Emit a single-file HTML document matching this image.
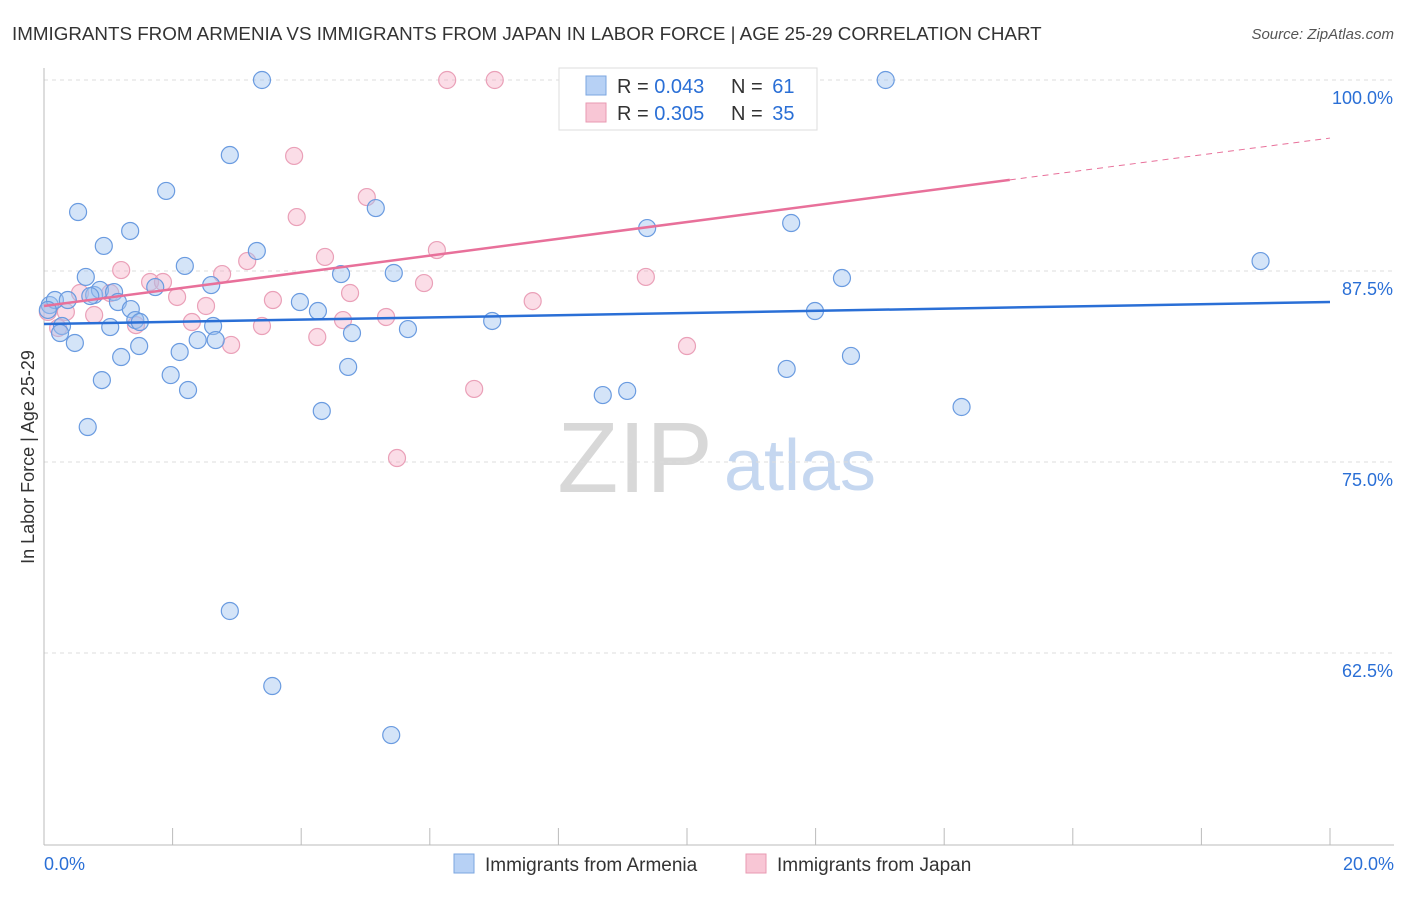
<!DOCTYPE html>
<html><head><meta charset="utf-8"><style>
body{margin:0;background:#fff;font-family:"Liberation Sans",sans-serif;}
svg text{font-family:"Liberation Sans",sans-serif;}
</style></head><body>
<svg id="chart" width="1406" height="892" viewBox="0 0 1406 892">
<text x="12" y="40" font-size="18.8" fill="#333">IMMIGRANTS FROM ARMENIA VS IMMIGRANTS FROM JAPAN IN LABOR FORCE | AGE 25-29 CORRELATION CHART</text>
<text x="1394" y="39" font-size="15" fill="#555" font-style="italic" text-anchor="end">Source: ZipAtlas.com</text>
<text transform="translate(34,457) rotate(-90)" font-size="18" fill="#333" text-anchor="middle">In Labor Force | Age 25-29</text>
<g>
<text x="635" y="492" font-size="100" fill="#d8d8d8" font-family="Liberation Serif" text-anchor="middle">ZIP</text>
<text x="800" y="490" font-size="72" fill="#c5d7f0" text-anchor="middle">atlas</text>
</g>
<g id="grid"></g>
<g id="marks"></g>
<g id="lines"></g>
<g>
<rect x="559" y="68" width="258" height="62" fill="#fff" stroke="#ddd"/>
<rect x="586" y="76" width="20" height="19" fill="#b7d1f5" stroke="#7ba6e0"/>
<text x="617" y="93" font-size="20" fill="#333">R = <tspan fill="#2a6fd6">0.043</tspan></text>
<text x="731" y="93" font-size="20" fill="#333">N = <tspan fill="#2a6fd6" dx="4">61</tspan></text>
<rect x="586" y="103" width="20" height="19" fill="#f8c6d5" stroke="#e89ab2"/>
<text x="617" y="120" font-size="20" fill="#333">R = <tspan fill="#2a6fd6">0.305</tspan></text>
<text x="731" y="120" font-size="20" fill="#333">N = <tspan fill="#2a6fd6" dx="4">35</tspan></text>
</g>
<g>
<rect x="454" y="854" width="20" height="19" fill="#b7d1f5" stroke="#7ba6e0"/>
<text x="485" y="871" font-size="19" fill="#333">Immigrants from Armenia</text>
<rect x="746" y="854" width="20" height="19" fill="#f8c6d5" stroke="#e89ab2"/>
<text x="777" y="871" font-size="19" fill="#333">Immigrants from Japan</text>
</g>
</svg>
<script>
const blueX=[0.09,0.17,0.28,0.25,0.37,0.48,0.53,0.65,0.68,0.78,0.87,0.90,0.93,1.03,1.09,1.15,1.20,1.34,1.35,1.42,1.48,1.73,1.90,1.97,2.11,2.19,2.24,2.39,2.60,2.63,2.67,2.89,2.89,3.31,3.39,3.55,3.98,4.26,4.32,4.62,4.73,4.79,5.16,5.40,5.44,5.66,6.97,8.69,9.07,9.38,11.55,11.62,11.99,12.41,12.55,13.09,14.27,18.92,0.06,0.72,1.49];
const blueY=[85.27,85.60,83.90,83.44,85.60,82.79,91.36,87.11,77.29,85.93,86.26,80.36,89.14,83.83,86.12,85.47,81.87,90.12,85.01,84.29,82.59,86.45,92.74,80.69,82.20,87.83,79.71,82.98,86.58,83.90,82.98,95.09,65.25,88.81,100,60.34,85.47,84.88,78.34,87.30,81.22,83.44,91.62,57.13,87.37,83.70,84.23,79.38,79.65,90.31,81.09,90.64,84.88,87.04,81.94,100,78.60,88.15,84.95,85.86,84.16];
const pinkX=[0.06,0.22,0.34,0.56,0.78,1.03,1.20,1.43,1.65,1.85,2.07,2.30,2.52,2.77,2.91,3.16,3.39,3.56,3.89,3.93,4.25,4.37,4.65,4.76,5.02,5.32,5.49,5.91,6.11,6.27,6.69,7.01,7.60,9.36,10.00,11.21];
const pinkY=[84.82,83.77,84.82,86.06,84.62,86.06,87.56,83.96,86.78,86.78,85.80,84.16,85.21,87.30,82.66,88.15,83.90,85.60,95.03,91.03,83.18,88.42,84.29,86.06,92.34,84.49,75.26,86.71,88.87,100,79.78,100,85.53,87.11,82.59,100];
const yTicks=[100,87.5,75,62.5];
const yTickLabels=["100.0%","87.5%","75.0%","62.5%"];
const xTickLabels=["0.0%","20.0%"];
const blueTrend=[84.03,85.47];
const pinkTrend=[85.21,96.20];
const pinkSolidEnd=15.02;

const NS="http://www.w3.org/2000/svg";
const X=v=>44+v/20*1286;
const Y=v=>80+(100-v)*15.28;
function mk(tag,attrs,parent){const e=document.createElementNS(NS,tag);for(const k in attrs)e.setAttribute(k,attrs[k]);parent.appendChild(e);return e;}
const grid=document.getElementById('grid'),marks=document.getElementById('marks'),lines=document.getElementById('lines');
yTicks.forEach((t,i)=>{
 const l=mk('line',{x1:44,x2:1394,y1:Y(t),y2:Y(t),stroke:'#ddd','stroke-dasharray':'4,4'},grid);
 
 
 const tx=mk('text',{x:1393,y:Y(t)+24,'font-size':18,fill:'#2a6fd6','text-anchor':'end'},grid);
 tx.textContent=yTickLabels[i];
 
 
});
const ax=mk('line',{x1:44,x2:44,y1:68,y2:845,stroke:'#bbb'},grid);


const bx=mk('line',{x1:44,x2:1394,y1:845,y2:845,stroke:'#bbb'},grid);


for(let i=0;i<=10;i++){const t=mk('line',{x1:X(i*2),x2:X(i*2),y1:828,y2:845,stroke:'#bbb'},grid);
 
 }
[[0,'start',44],[20,'end',1394]].forEach((d,i)=>{const t=mk('text',{x:d[2],y:870,'font-size':18,fill:'#2a6fd6','text-anchor':d[1]},grid);t.textContent=xTickLabels[i];
 
 });
pinkX.forEach((v,i)=>{const c=mk('circle',{cx:X(v),cy:Y(pinkY[i]),r:8.5,fill:'rgba(245,170,195,0.4)',stroke:'#eaa0b8','stroke-width':1.2},marks);
 
 });
blueX.forEach((v,i)=>{const c=mk('circle',{cx:X(v),cy:Y(blueY[i]),r:8.5,fill:'rgba(160,195,240,0.45)',stroke:'#6a9be0','stroke-width':1.2},marks);
 
 });
const bl=mk('line',{x1:X(0),y1:Y(blueTrend[0]),x2:X(20),y2:Y(blueTrend[1]),stroke:'#2a6fd6','stroke-width':2.5},lines);


const py=x=>pinkTrend[0]+(pinkTrend[1]-pinkTrend[0])*x/20;
const pl=mk('line',{x1:X(0),y1:Y(pinkTrend[0]),x2:X(pinkSolidEnd),y2:Y(py(pinkSolidEnd)),stroke:'#e8709a','stroke-width':2.5},lines);


const pd=mk('line',{x1:X(pinkSolidEnd),y1:Y(py(pinkSolidEnd)),x2:X(20),y2:Y(pinkTrend[1]),stroke:'#e8709a','stroke-width':1,'stroke-dasharray':'6,5'},lines);


</script>
</body></html>
